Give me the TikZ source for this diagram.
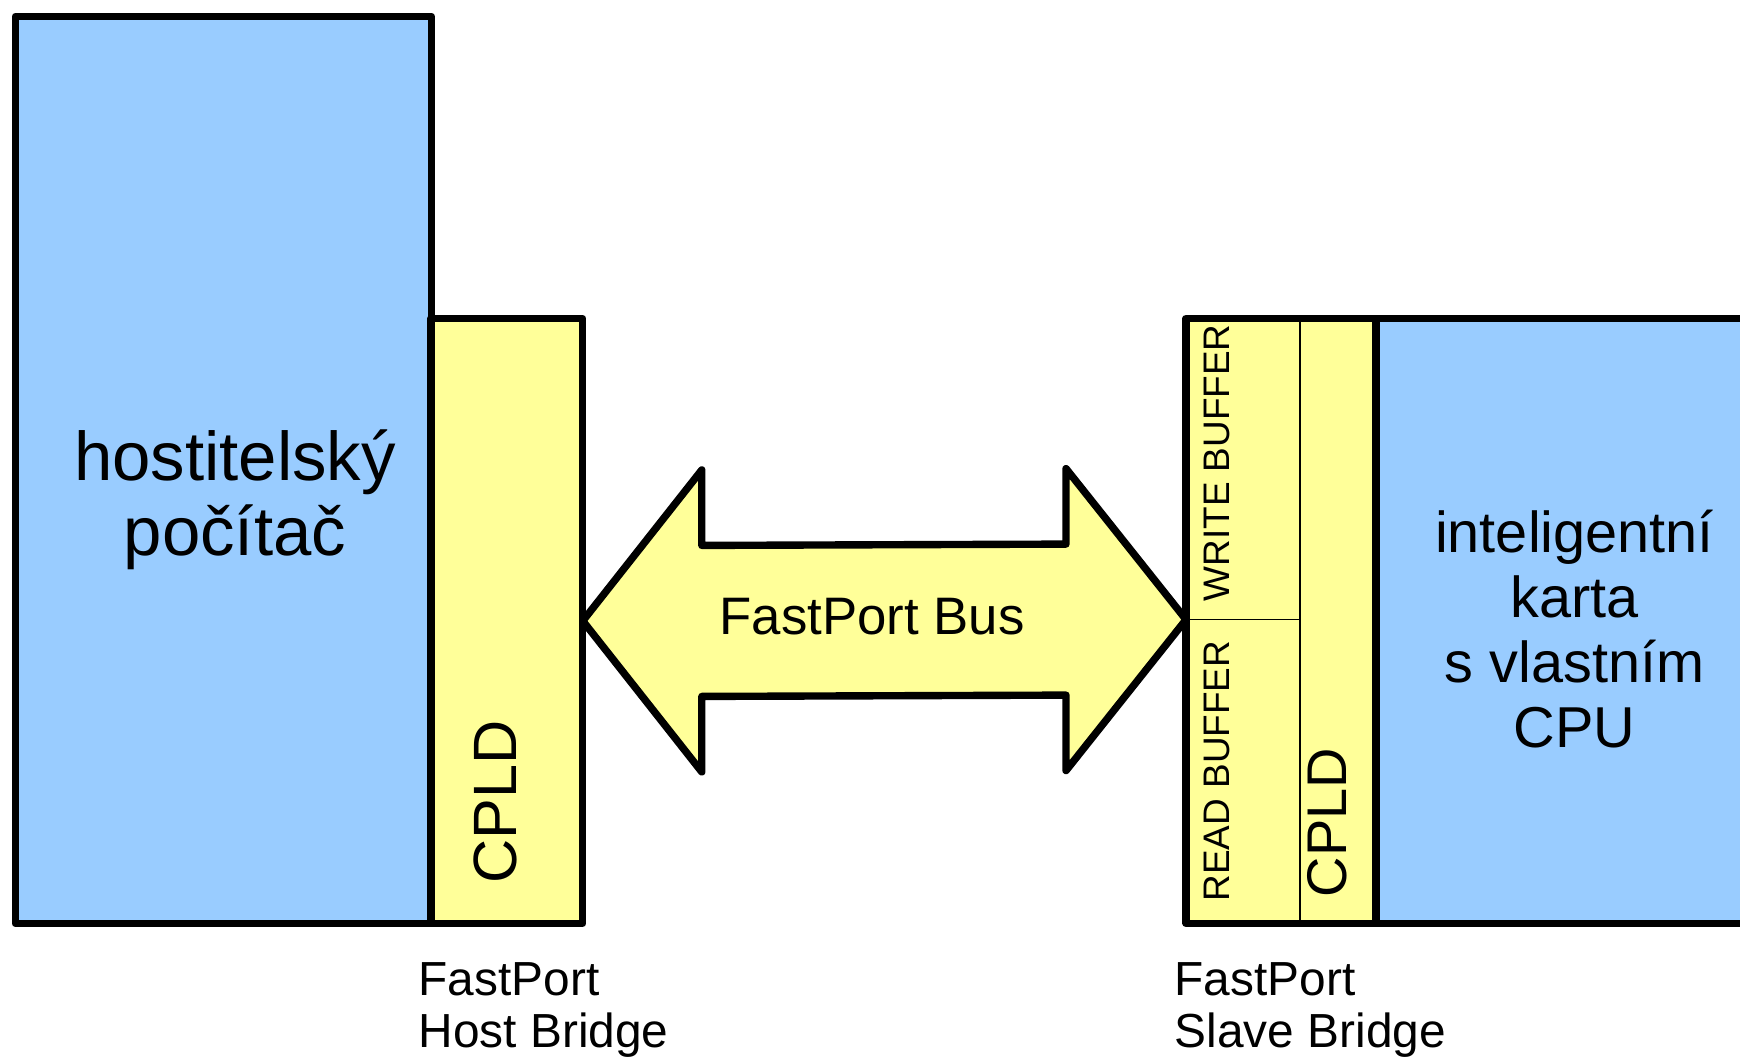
\documentclass[tikz,border=0pt]{standalone}
\usepackage{fontspec}
\setmainfont{Liberation Sans}
\usetikzlibrary{positioning}

\definecolor{boardblue}{HTML}{99CCFF}
\definecolor{chipyellow}{HTML}{FFFF99}

\begin{document}
\begin{tikzpicture}[
    x=0.01cm, y=-0.01cm,
    line join=round,
    block/.style={draw, rectangle, line width=2.1pt, inner sep=0pt, outer sep=0pt, anchor=north west},
    cell/.style={draw, rectangle, line width=0.4pt, inner sep=0pt, outer sep=0pt, anchor=north west, fill=chipyellow},
    vtext/.style={rotate=90, anchor=west, inner sep=0pt},
    caption/.style={font=\fontsize{13.6}{14.8}\selectfont, align=left, inner sep=0pt},
    bus/.style={draw, line width=2.1pt, fill=chipyellow}
]
\useasboundingbox (0,0) rectangle (1740,1058);

% Host side
\node[block, fill=boardblue, minimum width=4.157cm, minimum height=9.067cm] (host) at (15.3,16.3) {};
\node[block, fill=chipyellow, minimum width=1.517cm, minimum height=6.045cm] (hcpld) at (431,318.5) {};
\node[font=\fontsize{19.6}{21.2}\selectfont, align=center, inner sep=0pt] (hosttxt) at (235,500) {hostitelský\\počítač};
\node[vtext, font=\fontsize{17.4}{20}\selectfont] (hcpldtxt) at (495,884.5) {CPLD};

% Slave side
\node[cell, minimum width=1.138cm, minimum height=3.011cm] (wbuf) at (1186,318.5) {};
\node[cell, minimum width=1.138cm, minimum height=3.034cm] (rbuf) at (1186,619.6) {};
\node[cell, minimum width=0.762cm, minimum height=6.045cm] (scpld) at (1299.8,318.5) {};
\draw[line width=2.1pt] (wbuf.north west) rectangle (scpld.south east);
\node[block, fill=boardblue, minimum width=4.5cm, minimum height=6.045cm] (card) at (1376,318.5) {};
\node[vtext, font=\fontsize{10.5}{12}\selectfont] (wbuftxt) at (1217.3,602) {WRITE BUFFER};
\node[vtext, font=\fontsize{10.5}{12}\selectfont] (rbuftxt) at (1217.3,902) {READ BUFFER};
\node[vtext, font=\fontsize{15.9}{18}\selectfont] (scpldtxt) at (1327.5,898) {CPLD};
\node[font=\fontsize{16.4}{18.4}\selectfont, align=center, inner sep=0pt] (cardtxt) at (1574.5,629) {inteligentní\\karta\\s vlastním\\CPU};

% Bus between the bridges
\draw[bus] (hcpld.east) -- ++(119,-151) -- ++(0,75.5)
    -- ([shift={(-120,-75.5)}]rbuf.north west) -- ++(0,-75.5) -- (rbuf.north west)
    -- ++(-120,151) -- ++(0,-75.5)
    -- ([shift={(119,75.5)}]hcpld.east) -- ++(0,75.5) -- cycle;
\node[font=\fontsize{15}{18}\selectfont, anchor=base, inner sep=0pt] (bustxt) at (872,634.7) {FastPort Bus};

% Bridge names
\node[caption, below right=0.387cm and -0.13cm of hcpld.south west] (hostlbl) {FastPort\\Host Bridge};
\node[caption, below right=0.387cm and -0.12cm of rbuf.south west] (slavelbl) {FastPort\\Slave Bridge};
\end{tikzpicture}
\end{document}
